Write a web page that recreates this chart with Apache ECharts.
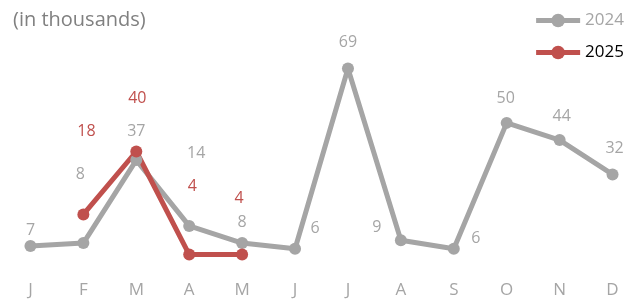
<!DOCTYPE html>
<html>
<head>
<meta charset="utf-8">
<script src="https://cdn.jsdelivr.net/npm/echarts@6/dist/echarts.min.js"></script>
<style>
  html, body { margin: 0; padding: 0; background: #fff; }
  #chart { width: 639px; height: 300px; }
</style>
</head>
<body>
<div id="chart"></div>
<script>
let months = ['J', 'F', 'M', 'A', 'M', 'J', 'J', 'A', 'S', 'O', 'N', 'D'];
let sales2024 = [7, 8, 37, 14, 8, 6, 69, 9, 6, 50, 44, 32];
let sales2025 = [null, 18, 40, 4, 4, null, null, null, null, null, null, null];

// label offsets from the point centre, copied from the original's placement
let offsets2024 = [[0, -16], [-3, -69], [0, -29], [7, -72], [0, -21], [20, -20],
  [0, -26], [-24, -13], [22, -10], [-1, -24], [2, -24], [2, -26]];
let offsets2025 = [null, [3, -83], [1, -53], [3, -68], [-3, -56]];

let grey = '#a5a5a5';
let red = '#c0504d';
let font = 'Open Sans';

function withLabels(values, offsets) {
  return values.map(function (v, i) {
    if (v == null) return v;
    return {value: v, label: {offset: offsets[i]}};
  });
}

let myChart = echarts.init(document.getElementById('chart'));
let option = {
  animation: false,
  textStyle: {fontFamily: font},
  title: {
    text: '(in thousands)',
    left: 8,
    top: 5,
    textStyle: {color: '#808080', fontSize: 20, fontWeight: 'normal', fontFamily: font}
  },
  legend: {
    orient: 'vertical',
    right: 10,
    top: 7,
    itemWidth: 44,
    itemHeight: 17,
    itemGap: 15,
    lineStyle: {width: 5},
    textStyle: {fontSize: 17, fontFamily: font},
    data: [
      {name: '2024', textStyle: {color: grey}},
      {name: '2025', textStyle: {color: '#000'}}
    ]
  },
  grid: {left: 4, width: 638, top: 37, bottom: 34},
  xAxis: {
    type: 'category',
    data: months,
    axisLine: {show: false},
    axisTick: {show: false},
    axisLabel: {color: grey, fontSize: 17, margin: 16, fontFamily: font}
  },
  yAxis: {
    type: 'value',
    min: 0,
    max: 80,
    show: false,
    splitLine: {show: false}
  },
  series: [
    {
      name: '2024',
      type: 'line',
      data: withLabels(sales2024, offsets2024),
      symbol: 'circle',
      symbolSize: 12,
      lineStyle: {color: grey, width: 5},
      itemStyle: {color: grey},
      label: {show: true, position: 'inside', color: grey, fontSize: 16, fontFamily: font}
    },
    {
      name: '2025',
      type: 'line',
      data: withLabels(sales2025, offsets2025),
      symbol: 'circle',
      symbolSize: 12,
      lineStyle: {color: red, width: 5},
      itemStyle: {color: red},
      label: {show: true, position: 'inside', color: red, fontSize: 16, fontFamily: font}
    }
  ]
};
myChart.setOption(option);
</script>
</body>
</html>
